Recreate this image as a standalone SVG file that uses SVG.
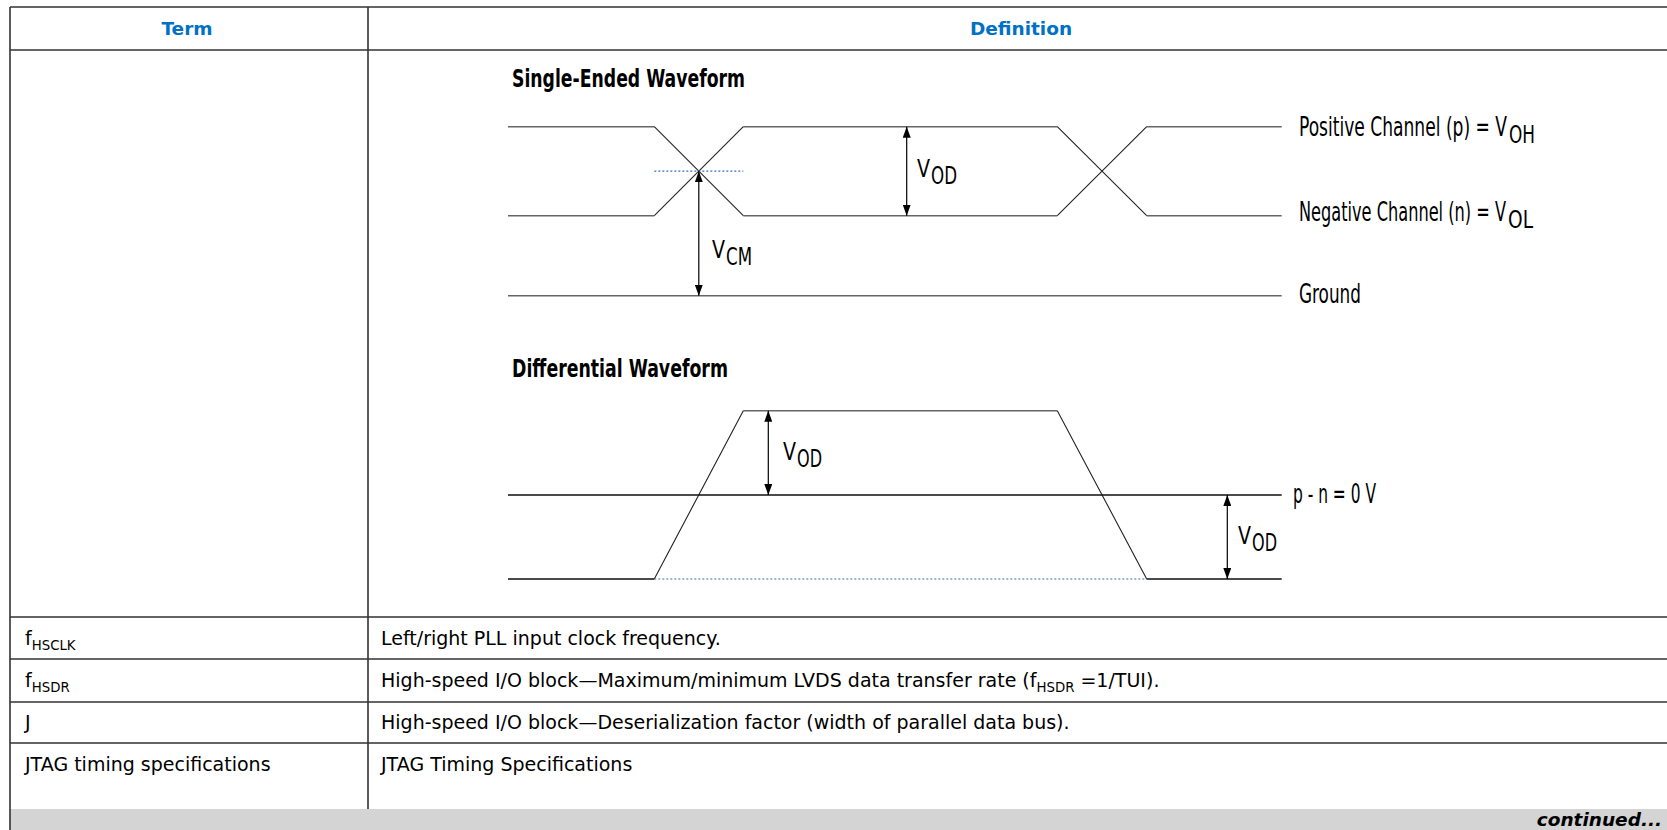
<svg xmlns="http://www.w3.org/2000/svg" width="1667" height="830" viewBox="0 0 1667 830">
<style>
.grid{stroke:#333;stroke-width:1.6;fill:none}
.hdr{font-family:"DejaVu Sans","Noto Sans",sans-serif;font-weight:bold;font-size:18.5px;fill:#0071c5;text-anchor:middle}
.cell{font-family:"DejaVu Sans","Noto Sans",sans-serif;font-size:19px;fill:#000}
.sub{font-size:13.3px}
.cont{font-family:"DejaVu Sans","Noto Sans",sans-serif;font-weight:bold;font-style:italic;font-size:18.5px;fill:#000;text-anchor:end}
.ttl{font-family:"Liberation Sans Narrow","DejaVu Sans Condensed","DejaVu Sans",sans-serif;font-stretch:condensed;font-weight:bold;font-size:25px;fill:#000}
.lbl{font-family:"Liberation Sans Narrow","DejaVu Sans Condensed","DejaVu Sans",sans-serif;font-stretch:condensed;font-size:26px;fill:#000}
.v{font-size:25px}
.lsub{font-size:24px}
.hw{stroke:#666;stroke-width:1.6;fill:none}
.dg{stroke:#222;stroke-width:1.1;fill:none}
.bl{stroke:#111;stroke-width:1.3;fill:none}
.dot{stroke:#3a72b0;stroke-width:1.2;stroke-dasharray:2 2;fill:none}
.arr{stroke:#000;stroke-width:1.2;fill:none;marker-start:url(#ah);marker-end:url(#ah)}
</style>
<defs>
<marker id="ah" viewBox="0 0 11 8" refX="11" refY="4" markerWidth="11" markerHeight="8" markerUnits="userSpaceOnUse" orient="auto-start-reverse">
<path d="M0,0 L11,4 L0,8 z" fill="#000"/>
</marker>
</defs>
<rect x="0" y="0" width="1667" height="830" fill="#fff"/>

<g id="table">
<rect x="10" y="809" width="1657" height="21" fill="#d4d4d4"/>
<path class="grid" d="M10,7 H1667 M10,50 H1667 M10,617 H1667 M10,659 H1667 M10,702 H1667 M10,743 H1667 M10,7 V830 M368,7 V809"/>
</g>

<g id="header">
<text class="hdr" x="187" y="35">Term</text>
<text class="hdr" x="1021" y="35">Definition</text>
</g>

<g id="row-fhsclk">
<text class="cell" x="25" y="645">f<tspan class="sub" dy="5">HSCLK</tspan></text>
<text class="cell" x="381" y="645">Left/right PLL input clock frequency.</text>
</g>
<g id="row-fhsdr">
<text class="cell" x="25" y="687">f<tspan class="sub" dy="5">HSDR</tspan></text>
<text class="cell" x="381" y="687">High-speed I/O block—Maximum/minimum LVDS data transfer rate (f<tspan class="sub" dy="5">HSDR</tspan><tspan dy="-5"> =1/TUI).</tspan></text>
</g>
<g id="row-j">
<text class="cell" x="25" y="729">J</text>
<text class="cell" x="381" y="729">High-speed I/O block—Deserialization factor (width of parallel data bus).</text>
</g>
<g id="row-jtag">
<text class="cell" x="25" y="771">JTAG timing specifications</text>
<text class="cell" x="381" y="771">JTAG Timing Specifications</text>
</g>
<g id="continued">
<text class="cont" x="1662" y="826">continued...</text>
</g>

<g id="single-ended">
<text class="ttl" x="512" y="87" textLength="233" lengthAdjust="spacingAndGlyphs">Single-Ended Waveform</text>
<path class="hw" d="M508,126.7 H654.3 M743.3,126.7 H1057.3 M1146.7,126.7 H1281.7 M508,215.7 H654.3 M743.3,215.7 H1057.3 M1146.7,215.7 H1281.7 M508,295.7 H1281.7"/>
<path class="dg" d="M654.3,126.7 L743.3,215.7 M654.3,215.7 L743.3,126.7 M1057.3,126.7 L1146.7,215.7 M1057.3,215.7 L1146.7,126.7"/>
<path class="dot" d="M654.3,171.2 H743.3"/>
<text class="lbl v" x="917" y="177"><tspan textLength="13" lengthAdjust="spacingAndGlyphs">V</tspan><tspan class="lsub" x="931" dy="7" textLength="26" lengthAdjust="spacingAndGlyphs">OD</tspan></text>
<text class="lbl v" x="712" y="258"><tspan textLength="13" lengthAdjust="spacingAndGlyphs">V</tspan><tspan class="lsub" x="726" dy="7" textLength="26" lengthAdjust="spacingAndGlyphs">CM</tspan></text>
<text class="lbl" x="1299" y="136"><tspan textLength="208" lengthAdjust="spacingAndGlyphs">Positive Channel (p) = V</tspan><tspan class="lsub" x="1509" dy="7" textLength="26" lengthAdjust="spacingAndGlyphs">OH</tspan></text>
<text class="lbl" x="1299" y="221"><tspan textLength="207" lengthAdjust="spacingAndGlyphs">Negative Channel (n) = V</tspan><tspan class="lsub" x="1508" dy="7" textLength="25" lengthAdjust="spacingAndGlyphs">OL</tspan></text>
<text class="lbl" x="1299" y="303" textLength="62" lengthAdjust="spacingAndGlyphs">Ground</text>
</g>

<g id="differential">
<text class="ttl" x="512" y="377" textLength="216" lengthAdjust="spacingAndGlyphs">Differential Waveform</text>
<path class="hw" d="M743.3,410.7 H1057.3"/>
<path class="dg" d="M654.3,579 L743.3,410.7 M1057.3,410.7 L1146.7,579"/>
<path class="bl" d="M508,495 H1281.7 M508,579 H654.3 M1146.7,579 H1281.7"/>
<path class="dot" d="M654.3,579 H1146.7"/>
<text class="lbl v" x="783" y="460"><tspan textLength="13" lengthAdjust="spacingAndGlyphs">V</tspan><tspan class="lsub" x="797" dy="7" textLength="25" lengthAdjust="spacingAndGlyphs">OD</tspan></text>
<text class="lbl v" x="1238" y="544"><tspan textLength="13" lengthAdjust="spacingAndGlyphs">V</tspan><tspan class="lsub" x="1252" dy="7" textLength="25" lengthAdjust="spacingAndGlyphs">OD</tspan></text>
<text class="lbl" x="1293" y="503" textLength="83" lengthAdjust="spacingAndGlyphs">p - n = 0 V</text>
</g>

<g id="connectors">
<path class="arr" d="M906.7,126.7 V215.7"/>
<path class="arr" d="M698.8,171.2 V295.7"/>
<path class="arr" d="M768.3,410.7 V495"/>
<path class="arr" d="M1227.3,495 V579"/>
</g>
</svg>
